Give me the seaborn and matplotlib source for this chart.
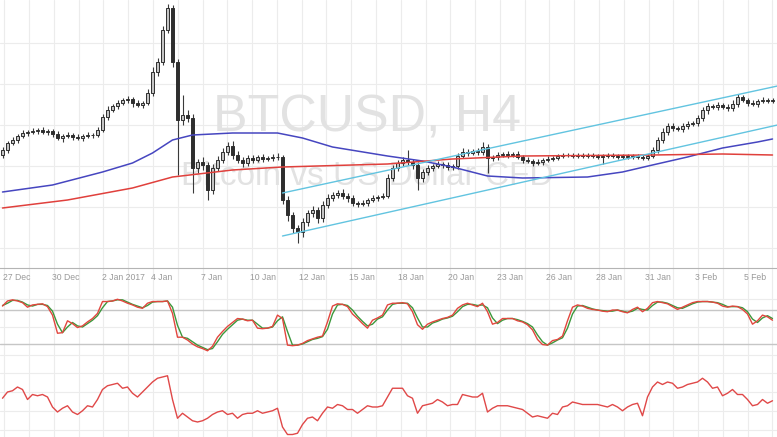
import numpy as np
import pandas as pd
import matplotlib
matplotlib.use("Agg")
import matplotlib.pyplot as plt
import matplotlib.transforms as mtransforms
import seaborn as sns

# H4 candles (closes), open = previous close
first_open = 890
closes = [
    900, 914, 920, 928, 934, 936, 938, 940, 936, 938,
    932, 924, 928, 930, 926, 924, 928, 930, 930, 940,
    966, 980, 988, 994, 1000, 1002, 994, 990, 994, 1014,
    1056, 1076, 1140, 1184, 1076, 960, 970, 964, 864, 876,
    870, 820, 864, 880, 896, 908, 890, 880, 874, 884,
    880, 886, 882, 884, 886, 886, 800, 770, 744, 736,
    756, 774, 780, 764, 790, 804, 810, 814, 808, 804,
    794, 792, 794, 800, 804, 806, 808, 844, 864, 874,
    880, 876, 870, 844, 856, 864, 868, 872, 870, 866,
    868, 888, 896, 894, 898, 896, 906, 884, 886, 890,
    892, 890, 892, 886, 880, 878, 874, 876, 880, 882,
    884, 888, 890, 890, 888, 890, 888, 890, 888, 886,
    888, 890, 888, 886, 888, 886, 888, 886, 884, 888,
    900, 920, 936, 948, 944, 942, 948, 952, 954, 964,
    980, 988, 986, 990, 986, 984, 992, 1006, 1000, 994,
    992, 998, 1000, 998, 1000,
]
wick_up = [
    6, 4, 6, 4, 6, 4, 6, 4, 6, 4,
    4, 6, 4, 6, 4, 6, 4, 6, 4, 6,
    6, 8, 4, 6, 4, 6, 4, 6, 4, 8,
    10, 8, 8, 8, 6, 6, 40, 10, 8, 6,
    10, 6, 8, 8, 8, 8, 10, 8, 6, 6,
    6, 4, 6, 4, 6, 8, 4, 8, 6, 6,
    8, 6, 8, 6, 8, 8, 6, 6, 8, 6,
    6, 4, 6, 4, 6, 4, 6, 8, 6, 6,
    6, 20, 6, 6, 6, 6, 4, 6, 4, 6,
    4, 6, 8, 6, 4, 6, 10, 6, 4, 6,
    4, 6, 4, 6, 4, 6, 4, 6, 4, 6,
    4, 4, 4, 4, 4, 4, 4, 4, 4, 4,
    4, 4, 4, 4, 4, 4, 4, 4, 4, 4,
    6, 6, 8, 6, 6, 4, 6, 6, 4, 6,
    6, 6, 4, 6, 4, 6, 8, 6, 4, 4,
    6, 4, 6, 4, 4,
]
wick_dn = [
    6, 6, 4, 6, 4, 6, 4, 6, 4, 6,
    6, 4, 8, 4, 6, 4, 6, 4, 6, 4,
    4, 6, 4, 6, 4, 6, 8, 4, 6, 4,
    6, 8, 6, 6, 10, 110, 10, 8, 50, 10,
    10, 20, 8, 6, 6, 6, 8, 6, 8, 6,
    6, 4, 6, 4, 6, 6, 8, 12, 10, 22,
    10, 8, 8, 10, 8, 6, 6, 6, 6, 8,
    6, 6, 4, 6, 4, 6, 4, 4, 6, 6,
    6, 6, 8, 24, 8, 6, 6, 4, 6, 6,
    6, 6, 4, 6, 4, 6, 6, 30, 6, 6,
    4, 6, 4, 4, 6, 4, 6, 4, 6, 4,
    4, 4, 4, 4, 4, 4, 4, 4, 4, 4,
    14, 4, 4, 4, 4, 4, 4, 4, 4, 4,
    4, 6, 6, 6, 6, 4, 6, 6, 4, 6,
    6, 8, 4, 6, 4, 6, 6, 6, 4, 6,
    4, 6, 4, 4, 4,
]

# moving averages (read at a few bars)
ma_blue_bar = [0, 10, 20, 26, 30, 34, 38, 46, 55, 60, 66, 77, 84, 90, 97, 104, 117, 124, 130, 137, 144, 151, 154]
ma_blue = [816, 830, 856, 874, 894, 920, 930, 934, 934, 924, 906, 888, 878, 866, 848, 844, 846, 856, 870, 886, 904, 916, 922]
ma_red_bar = [0, 13, 26, 34, 46, 56, 77, 90, 104, 130, 144, 154]
ma_red = [784, 800, 824, 846, 860, 866, 872, 882, 888, 890, 892, 890]

# rising channel
channel_bar = [56, 155]
channel_upper = [814, 1028]
channel_lower = [728, 950]

# stochastic %K / %D
stoch_k = [
    87, 96, 98, 96, 93, 85, 89, 90, 91, 86,
    71, 39, 40, 61, 56, 49, 52, 59, 65, 74,
    95, 95, 96, 99, 96, 92, 89, 85, 83, 92,
    95, 95, 95, 96, 74, 32, 32, 27, 20, 15,
    12, 8, 16, 32, 42, 51, 58, 65, 64, 61,
    62, 48, 47, 48, 51, 71, 65, 18, 17, 18,
    21, 26, 29, 32, 34, 59, 87, 91, 90, 86,
    73, 65, 56, 48, 62, 66, 71, 89, 92, 92,
    93, 91, 77, 54, 46, 55, 59, 62, 65, 67,
    71, 83, 89, 92, 89, 86, 92, 77, 55, 58,
    65, 65, 65, 61, 59, 54, 45, 28, 19, 18,
    26, 28, 34, 61, 85, 89, 87, 83, 81, 80,
    78, 77, 80, 80, 77, 75, 81, 85, 77, 83,
    93, 95, 93, 91, 86, 81, 85, 89, 93, 95,
    95, 95, 94, 92, 87, 85, 87, 86, 81, 73,
    55, 61, 71, 68, 62,
]
stoch_d = [
    88, 92, 97, 97, 94, 89, 87, 90, 90, 88,
    78, 55, 40, 50, 58, 52, 50, 56, 62, 70,
    84, 95, 96, 98, 98, 94, 90, 87, 84, 88,
    94, 95, 95, 96, 85, 53, 32, 30, 24, 18,
    14, 10, 12, 24, 37, 46, 54, 62, 64, 62,
    62, 55, 48, 48, 50, 61, 68, 42, 18, 18,
    20, 24, 28, 30, 33, 46, 73, 89, 90, 88,
    80, 69, 60, 52, 55, 64, 68, 80, 90, 92,
    92, 92, 84, 66, 50, 50, 57, 60, 64, 66,
    69, 77, 86, 90, 90, 88, 89, 84, 66, 56,
    62, 65, 65, 63, 60, 56, 50, 36, 24, 18,
    22, 27, 31, 48, 73, 87, 88, 85, 82, 80,
    79, 78, 78, 80, 78, 76, 78, 83, 81, 80,
    88, 94, 94, 92, 88, 84, 83, 87, 91, 94,
    95, 95, 94, 93, 90, 86, 86, 86, 84, 77,
    64, 58, 66, 70, 65,
]

# RSI
rsi = [
    51, 56, 57, 60, 58, 50, 54, 53, 54, 52,
    44, 40, 43, 45, 40, 38, 41, 45, 44, 50,
    58, 61, 62, 63, 59, 60, 55, 52, 56, 60,
    64, 67, 68, 69, 50, 35, 39, 36, 33, 32,
    33, 35, 38, 40, 41, 38, 39, 35, 38, 39,
    39, 41, 39, 40, 41, 43, 28, 22, 22, 23,
    30, 35, 36, 33, 39, 44, 43, 46, 45, 42,
    42, 39, 42, 45, 44, 44, 45, 52, 59, 59,
    59, 53, 51, 39, 45, 46, 47, 50, 48, 45,
    46, 46, 54, 53, 52, 52, 55, 40, 43, 45,
    45, 45, 44, 43, 42, 39, 36, 37, 36, 35,
    39, 38, 44, 45, 48, 47, 46, 46, 46, 46,
    45, 44, 46, 44, 41, 44, 46, 47, 37, 52,
    60, 64, 62, 64, 63, 59, 60, 62, 63, 64,
    67, 64, 59, 60, 53, 55, 58, 54, 54, 50,
    45, 46, 50, 47, 49,
]

date_labels = ['27 Dec', '30 Dec', '2 Jan 2017', '4 Jan', '7 Jan', '10 Jan', '12 Jan', '15 Jan',
               '18 Jan', '20 Jan', '23 Jan', '26 Jan', '28 Jan', '31 Jan', '3 Feb', '5 Feb']

n = len(closes)
df = pd.DataFrame({'bar': np.arange(n), 'close': closes})
df['open'] = [first_open] + closes[:-1]
df['high'] = df[['open', 'close']].max(axis=1) + wick_up
df['low'] = df[['open', 'close']].min(axis=1) - wick_dn

sns.set_style('white')
plt.rcParams['font.family'] = ['Liberation Sans', 'DejaVu Sans']

W, H = 777, 437
XLIM = (-0.5, 154.9)
GRID = '#ececec'

fig = plt.figure(figsize=(W / 100, H / 100), dpi=100)


def px_axes(top, bottom):
    a = fig.add_axes([0, 1 - bottom / H, 1, (bottom - top) / H])
    a.set_facecolor('none')
    a.set_xlim(*XLIM)
    a.set_xticks([])
    a.set_yticks([])
    for s in a.spines.values():
        s.set_visible(False)
    return a


# background vertical grid across all panels
bg = px_axes(0, H)
for gx in np.arange(0.36, n, 4.956):
    bg.axvline(gx, color=GRID, lw=0.8)

# price panel
ax = px_axes(0, 268)
ax.set_ylim(664, 1200)
for gy in np.arange(1114, 664, -82):
    ax.axhline(gy, color=GRID, lw=0.8, zorder=0)
ax.spines['bottom'].set_visible(True)
ax.spines['bottom'].set_color('#b4b4b4')

ax.text(367 / W, 1 - 132 / H, 'BTCUSD, H4', transform=fig.transFigure, fontsize=37.4,
        color='#e2e2e2', ha='center', va='baseline', zorder=1)
ax.text(367 / W, 1 - 185 / H, 'Bitcoin vs US Dollar CFD', transform=fig.transFigure, fontsize=24,
        color='#e2e2e2', ha='center', va='baseline', zorder=1)

up = df['close'] >= df['open']
ax.vlines(df['bar'], df['low'], df['high'], color='#3a3a3a', lw=0.8, zorder=2)
ax.bar(df['bar'][up], (df['close'] - df['open'])[up], bottom=df['open'][up], width=0.45,
       color='#c4c4c4', edgecolor='#2e2e2e', linewidth=0.7, zorder=3)
ax.bar(df['bar'][~up], (df['close'] - df['open'])[~up], bottom=df['open'][~up], width=0.45,
       color='#2e2e2e', edgecolor='#2e2e2e', linewidth=0.7, zorder=3)

sns.lineplot(x=ma_blue_bar, y=ma_blue, ax=ax, color='#4646c0', linewidth=1.1, zorder=4)
sns.lineplot(x=ma_red_bar, y=ma_red, ax=ax, color='#e0403c', linewidth=1.1, zorder=4)
sns.lineplot(x=channel_bar, y=channel_upper, ax=ax, color='#62c4e0', linewidth=1.0, zorder=4)
sns.lineplot(x=channel_bar, y=channel_lower, ax=ax, color='#62c4e0', linewidth=1.0, zorder=4)
ax.set_xlim(*XLIM)
ax.set_ylim(664, 1200)

# date labels
trans = mtransforms.blended_transform_factory(ax.transData, fig.transFigure)
for k, lab in enumerate(date_labels):
    ax.text(0.1 + 9.88 * k, 1 - 277 / H, lab, transform=trans, fontsize=6.2,
            color='#999999', ha='left', va='center')

# stochastic panel
ax2 = px_axes(288, 362)
for gy in [0, 50, 100]:
    ax2.axhline(gy, color=GRID, lw=0.8, zorder=0)
for gy in [20, 80]:
    ax2.axhline(gy, color='#c6c6c6', lw=1.0, zorder=1)
sns.lineplot(x=np.arange(n), y=stoch_d, ax=ax2, color='#3c983c', linewidth=1.0, zorder=3)
sns.lineplot(x=np.arange(n), y=stoch_k, ax=ax2, color='#e2463e', linewidth=1.0, zorder=3)
ax2.set_xlim(*XLIM)
ax2.set_ylim(-11.8, 118.9)

# RSI panel
ax3 = px_axes(362, 437)
for gy in [25.6, 40.8, 56, 71.2]:
    ax3.axhline(gy, color=GRID, lw=0.8, zorder=0)
sns.lineplot(x=np.arange(n), y=rsi, ax=ax3, color='#e04848', linewidth=1.0, zorder=3)
ax3.set_xlim(*XLIM)
ax3.set_ylim(20, 80)

for a in (ax, ax2, ax3):
    a.set_xlabel('')
    a.set_ylabel('')
    a.set_xticks([])
    a.set_yticks([])

fig.savefig('out.png', dpi=100)
